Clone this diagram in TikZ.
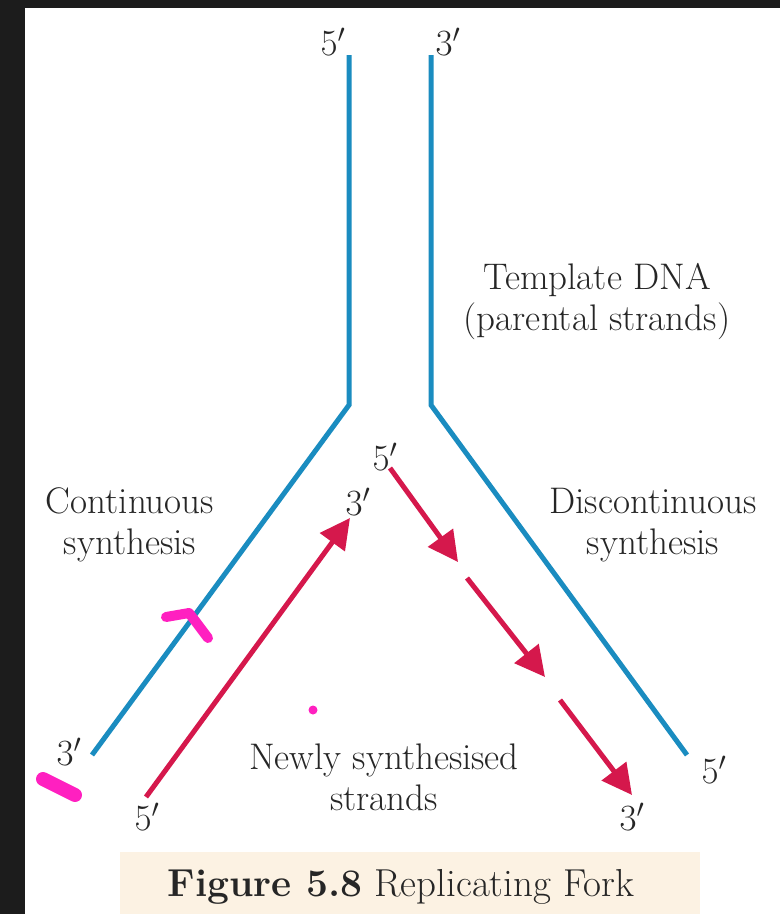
\RequirePackage{fix-cm}
\documentclass[tikz,border=0pt]{standalone}
\usetikzlibrary{arrows.meta}
\definecolor{strandblue}{HTML}{1A8CC0}
\definecolor{newred}{HTML}{D5184C}
\definecolor{txt}{HTML}{262626}
\definecolor{scribble}{HTML}{FF20C0}
\definecolor{captionbg}{HTML}{FCF2E3}
\definecolor{frame}{HTML}{1C1C1C}
\tikzset{
  template/.style={draw=strandblue, line width=5pt, line join=miter},
  newstrand/.style={draw=newred, line width=5pt, -{Triangle[length=30pt,width=30pt]}},
  lbl/.style={text=txt, font=\fontsize{37}{41}\selectfont, inner sep=0pt, align=center},
  scrib/.style={draw=scribble, line cap=round, line join=round}
}
\begin{document}
\begin{tikzpicture}[x=1pt,y=-1pt]
\useasboundingbox (0,0) rectangle (780,914);
\fill[white] (0,0) rectangle (780,914);
\fill[captionbg] (120,852) rectangle (700,914);
\fill[frame] (0,0) rectangle (780,8);
\fill[frame] (0,0) rectangle (25,914);

% template strands
\coordinate (lt) at (349,55);
\coordinate (lk) at (349,405);
\coordinate (lb) at (92,755);
\coordinate (rt) at (431,55);
\coordinate (rk) at (431,405);
\coordinate (rb) at (687,755);
\draw[template] (lt) -- (lk) -- (lb);
\draw[template] (rt) -- (rk) -- (rb);

% new strands
\coordinate (c1) at (146,797);
\coordinate (c2) at (350,518);
\coordinate (d1s) at (390,468);
\coordinate (d1e) at (458,562);
\coordinate (d2s) at (467,578);
\coordinate (d2e) at (545,677);
\coordinate (d3s) at (560,700);
\coordinate (d3e) at (632,795);
\draw[newstrand] (c1) -- (c2);
\draw[newstrand] (d1s) -- (d1e);
\draw[newstrand] (d2s) -- (d2e);
\draw[newstrand] (d3s) -- (d3e);

% labels
\node[lbl] (t5) at (333,42) {$5'$};
\node[lbl] (t3) at (448,42) {$3'$};
\node[lbl] (tmpl) at (597,302) {Template DNA\\(parental strands)};
\node[lbl] (cont) at (130,525) {Continuous\\synthesis};
\node[lbl] (disc) at (653,525) {Discontinuous\\synthesis};
\node[lbl] (f5) at (385,457) {$5'$};
\node[lbl] (f3) at (358,502) {$3'$};
\node[lbl] (l3) at (69,752) {$3'$};
\node[lbl] (l5) at (147,817) {$5'$};
\node[lbl] (newly) at (384,777) {Newly synthesised\\strands};
\node[lbl] (r5) at (714,770) {$5'$};
\node[lbl] (r3) at (632,817) {$3'$};
\node[lbl, font=\fontsize{39}{43}\selectfont] (cap) at (401,887) {\textbf{Figure 5.8} Replicating Fork};

% scribbles
\draw[scrib, line width=10pt] (166,617) -- (189,613) .. controls (196,622) .. (208,638);
\draw[scrib, line width=14pt] (43,779) -- (75,795);
\fill[scribble] (313,710) circle (4.5);
\end{tikzpicture}
\end{document}
